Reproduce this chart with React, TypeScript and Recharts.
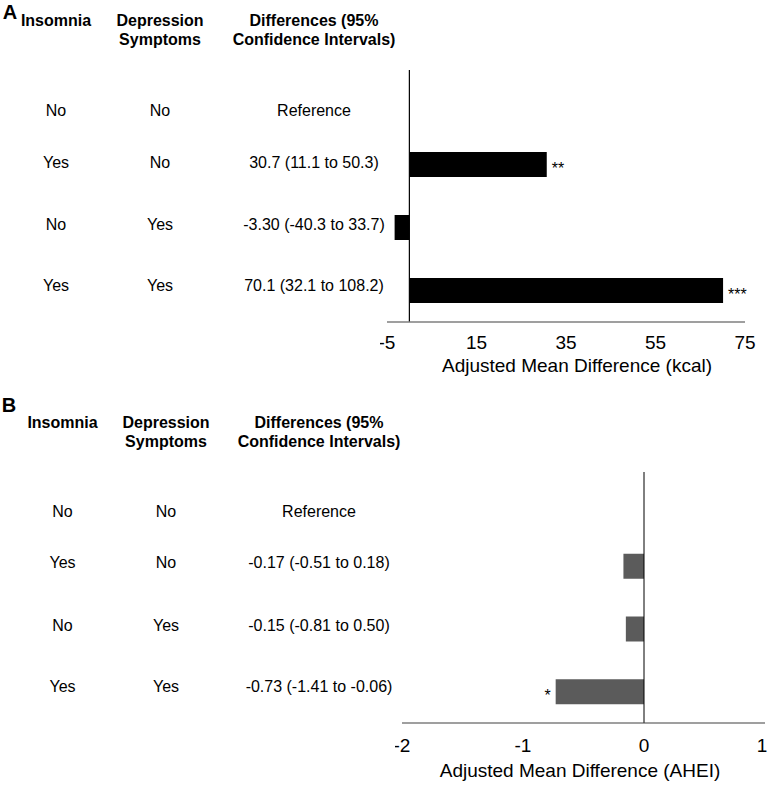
import React from 'react';
import {
  BarChart,
  Bar,
  XAxis,
  YAxis,
  ReferenceLine,
  LabelList,
  Label
} from 'recharts';

const insomnia = ['No', 'Yes', 'No', 'Yes'];
const depression = ['No', 'No', 'Yes', 'Yes'];

const kcalText = ['Reference', '30.7 (11.1 to 50.3)', '-3.30 (-40.3 to 33.7)', '70.1 (32.1 to 108.2)'];
const kcalValues = [null, 30.7, -3.3, 70.1];
const kcalSig = ['', '**', '', '***'];
const kcalTicks = [-5, 15, 35, 55, 75];

const aheiText = ['Reference', '-0.17 (-0.51 to 0.18)', '-0.15 (-0.81 to 0.50)', '-0.73 (-1.41 to -0.06)'];
const aheiValues = [null, -0.17, -0.15, -0.73];
const aheiSig = ['', '', '', '*'];
const aheiTicks = [-2, -1, 0, 1];

const headers = [
  ['Insomnia'],
  ['Depression', 'Symptoms'],
  ['Differences (95%', 'Confidence Intervals)']
];

const FONT = '"Liberation Sans", Arial, sans-serif';

const buildRows = (values: (number | null)[], sig: string[]) =>
  values.map((v, i) => ({ group: `${insomnia[i]}-${depression[i]}-${i}`, value: v, sig: sig[i] }));

const Cell: React.FC<{ x: number; y: number; bold?: boolean; size?: number; children: React.ReactNode }> = ({
  x, y, bold, size = 16, children
}) => (
  <div
    style={{
      position: 'absolute',
      left: x,
      top: y,
      transform: 'translate(-50%, -50%)',
      whiteSpace: 'nowrap',
      lineHeight: 1,
      fontSize: size,
      fontWeight: bold ? 'bold' : 'normal'
    }}
  >
    {children}
  </div>
);

// one table (left side) of a panel
const Table: React.FC<{ cols: number[]; headY: number[]; rowY: number[]; diffs: string[] }> = ({
  cols, headY, rowY, diffs
}) => (
  <>
    {headers.map((lines, c) =>
      lines.map((t, l) => (
        <Cell key={`h${c}${l}`} x={cols[c]} y={headY[l]} bold>
          {t}
        </Cell>
      ))
    )}
    {rowY.map((y, i) => (
      <React.Fragment key={i}>
        <Cell x={cols[0]} y={y}>{insomnia[i]}</Cell>
        <Cell x={cols[1]} y={y}>{depression[i]}</Cell>
        <Cell x={cols[2]} y={y}>{diffs[i]}</Cell>
      </React.Fragment>
    ))}
  </>
);

// tick that nudges the last label in so it stays on the page
const makeTick = (last: number) => (props: any) => {
  const { x, y, payload } = props;
  return (
    <text
      x={x}
      y={y}
      dy="0.71em"
      dx={payload.value === last ? -3 : 0}
      textAnchor="middle"
      fontSize={19}
      fill="#000"
      fontFamily={FONT}
    >
      {payload.value}
    </text>
  );
};

const App: React.FC = () => {
  const kcalData = buildRows(kcalValues, kcalSig);
  const aheiData = buildRows(aheiValues, aheiSig);
  const tick = { fontSize: 19, fill: '#000', fontFamily: FONT };

  return (
    <div
      style={{
        position: 'absolute',
        left: 0,
        top: 0,
        width: 768,
        height: 787,
        background: '#fff',
        color: '#000',
        fontFamily: FONT
      }}
    >
      <Cell x={10} y={12} bold size={20}>A</Cell>
      <Table cols={[56, 160, 314]} headY={[21, 40]} rowY={[111, 162.5, 225, 286]} diffs={kcalText} />

      <div style={{ position: 'absolute', left: 380, top: 60 }}>
        <BarChart
          width={388}
          height={330}
          data={kcalData}
          layout="vertical"
          margin={{ top: 10, right: 23, left: 7, bottom: 0 }}
          style={{ fontFamily: FONT }}
        >
          <XAxis
            type="number"
            domain={[-5, 75]}
            ticks={kcalTicks}
            interval={0}
            tickLine={false}
            tickMargin={8}
            height={68}
            axisLine={{ stroke: '#7f7f7f', strokeWidth: 1.5 }}
            tick={tick}
          >
            <Label
              value="Adjusted Mean Difference (kcal)"
              position="insideBottom"
              offset={18}
              dx={11}
              fontSize={19}
              fill="#000"
            />
          </XAxis>
          <YAxis type="category" dataKey="group" hide />
          <ReferenceLine x={0} stroke="#000" strokeWidth={1.2} />
          <Bar dataKey="value" fill="#000" barSize={25} isAnimationActive={false}>
            <LabelList dataKey="sig" position="right" offset={5} fontSize={16} fill="#000" dy={3.5} />
          </Bar>
        </BarChart>
      </div>

      <Cell x={9} y={405} bold size={20}>B</Cell>
      <Table cols={[62.5, 166, 319]} headY={[422.7, 441.7]} rowY={[511.7, 563.3, 626, 686.7]} diffs={aheiText} />

      <div style={{ position: 'absolute', left: 395, top: 460 }}>
        <BarChart
          width={373}
          height={327}
          data={aheiData}
          layout="vertical"
          margin={{ top: 12, right: 3, left: 7, bottom: 0 }}
          style={{ fontFamily: FONT }}
        >
          <XAxis
            type="number"
            domain={[-2, 1]}
            ticks={aheiTicks}
            interval={0}
            tickLine={false}
            tickMargin={10}
            height={64}
            axisLine={{ stroke: '#404040', strokeWidth: 1.2 }}
            tick={makeTick(aheiTicks[aheiTicks.length - 1])}
          >
            <Label
              value="Adjusted Mean Difference (AHEI)"
              position="insideBottom"
              offset={10}
              dx={-3.5}
              fontSize={19}
              fill="#000"
            />
          </XAxis>
          <YAxis type="category" dataKey="group" hide />
          <ReferenceLine x={0} stroke="#000" strokeWidth={1} />
          <Bar dataKey="value" fill="#5b5b5b" barSize={25} isAnimationActive={false}>
            {/* bars are negative, so "right" puts the mark past the bar's left end */}
            <LabelList dataKey="sig" position="right" offset={5} fontSize={16} fill="#000" dy={3.5} />
          </Bar>
        </BarChart>
      </div>
    </div>
  );
};

export default App;
